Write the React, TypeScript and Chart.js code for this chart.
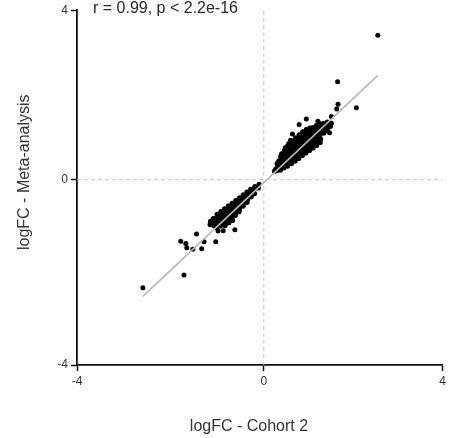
import React, { useEffect, useRef } from "react";
import { Chart, registerables, LinearScale } from "chart.js";

Chart.register(...registerables);

// ---------- data ----------
const xTickValues = [-4, 0, 4];
const yTickValues = [-4, 0, 4];
const xTitle = "logFC - Cohort 2";
const yTitle = "logFC - Meta-analysis";
const annotationText = "r = 0.99, p < 2.2e-16";

// fitted line end points (x, y)
const fitLine: [number, number][] = [
  [-2.59, -2.52],
  [2.55, 2.46],
];

// dense cluster of up-regulated genes
const positiveCluster: [number, number][] = [
  [0.24, 0.2], [0.27, 0.25],
  [0.3, 0.22], [0.31, 0.3], [0.3, 0.38], [0.33, 0.43],
  [0.37, 0.23], [0.38, 0.31], [0.39, 0.39], [0.37, 0.47], [0.38, 0.55], [0.4, 0.61],
  [0.45, 0.28], [0.47, 0.36], [0.46, 0.44], [0.45, 0.52], [0.47, 0.6], [0.46, 0.68], [0.48, 0.75],
  [0.53, 0.32], [0.55, 0.4], [0.54, 0.48], [0.53, 0.56], [0.55, 0.64], [0.54, 0.72], [0.53, 0.79], [0.56, 0.85],
  [0.62, 0.38], [0.61, 0.46], [0.63, 0.54], [0.62, 0.62], [0.61, 0.7], [0.63, 0.78], [0.62, 0.86], [0.6, 0.93],
  [0.7, 0.44], [0.71, 0.52], [0.69, 0.6], [0.7, 0.68], [0.71, 0.76], [0.69, 0.84], [0.7, 0.92], [0.71, 0.99],
  [0.78, 0.5], [0.79, 0.58], [0.77, 0.66], [0.78, 0.74], [0.79, 0.82], [0.77, 0.9], [0.78, 0.98], [0.79, 1.06],
  [0.86, 0.57], [0.87, 0.65], [0.85, 0.73], [0.86, 0.81], [0.87, 0.89], [0.85, 0.97], [0.86, 1.05], [0.87, 1.13],
  [0.94, 0.63], [0.95, 0.71], [0.93, 0.79], [0.94, 0.87], [0.95, 0.95], [0.93, 1.03], [0.94, 1.11], [0.95, 1.18],
  [1.02, 0.69], [1.03, 0.77], [1.01, 0.85], [1.02, 0.93], [1.03, 1.01], [1.01, 1.09], [1.02, 1.16], [1.03, 1.22],
  [1.1, 0.75], [1.11, 0.83], [1.09, 0.91], [1.1, 0.99], [1.11, 1.07], [1.09, 1.15], [1.1, 1.23],
  [1.18, 0.81], [1.19, 0.89], [1.17, 0.97], [1.18, 1.05], [1.19, 1.13], [1.17, 1.21], [1.18, 1.28],
  [1.26, 0.88], [1.27, 0.96], [1.25, 1.04], [1.26, 1.12], [1.27, 1.2], [1.25, 1.27], [1.26, 1.32],
  [1.34, 1.1], [1.35, 1.18], [1.33, 1.26], [1.34, 1.33],
  [1.42, 1.16], [1.43, 1.24], [1.41, 1.31], [1.42, 1.36],
  [1.49, 1.26], [1.51, 1.33],
];

// dense cluster of down-regulated genes
const negativeCluster: [number, number][] = [
  [-0.1, -0.1], [-0.12, -0.18],
  [-0.19, -0.15], [-0.21, -0.22], [-0.2, -0.3],
  [-0.28, -0.21], [-0.29, -0.29], [-0.27, -0.37],
  [-0.36, -0.27], [-0.37, -0.35], [-0.35, -0.43], [-0.36, -0.49],
  [-0.44, -0.33], [-0.45, -0.41], [-0.43, -0.49], [-0.44, -0.57],
  [-0.52, -0.39], [-0.53, -0.47], [-0.51, -0.55], [-0.52, -0.63], [-0.53, -0.69],
  [-0.6, -0.45], [-0.61, -0.53], [-0.59, -0.61], [-0.6, -0.69], [-0.61, -0.77],
  [-0.68, -0.51], [-0.69, -0.59], [-0.67, -0.67], [-0.68, -0.75], [-0.69, -0.83], [-0.67, -0.88],
  [-0.76, -0.57], [-0.77, -0.65], [-0.75, -0.73], [-0.76, -0.81], [-0.77, -0.89], [-0.75, -0.93],
  [-0.84, -0.63], [-0.85, -0.71], [-0.83, -0.79], [-0.84, -0.87], [-0.85, -0.95], [-0.83, -0.99],
  [-0.92, -0.69], [-0.93, -0.77], [-0.91, -0.85], [-0.92, -0.93], [-0.93, -1.0],
  [-1.0, -0.75], [-1.01, -0.83], [-0.99, -0.91], [-1.0, -0.99], [-1.01, -1.03],
  [-1.08, -0.84], [-1.09, -0.92], [-1.07, -0.99],
  [-1.14, -0.9], [-1.15, -0.97],
];

// scattered genes away from the dense clusters
const outliers: [number, number][] = [
  [2.55, 3.41], [1.65, 2.31], [1.66, 1.78], [1.63, 1.67], [2.07, 1.7],
  [1.51, 1.49], [0.95, 1.43], [0.79, 1.3], [1.21, 1.38], [0.64, 1.08], [1.47, 1.11],
  [-1.44, -1.17], [-1.78, -1.33], [-1.67, -1.38], [-1.65, -1.47], [-1.52, -1.5],
  [-1.33, -1.49], [-1.28, -1.34], [-1.03, -1.34], [-0.98, -1.11], [-0.87, -1.1],
  [-0.62, -1.08], [-1.71, -2.06], [-2.59, -2.33],
];

// ---------- a linear scale whose zero sits at a chosen fraction of the axis ----------
class SplitLinearScale extends LinearScale {
  static id = "splitLinear";
  getPixelForValue(value: any) {
    if (value === null || value === undefined || isNaN(value)) return NaN;
    const z = (this.options as any).zeroAt ?? 0.5;
    const min = this.min;
    const max = this.max;
    let dec: number;
    if (value <= 0) dec = (z * (value - min)) / (0 - min);
    else dec = z + ((1 - z) * value) / max;
    return this.getPixelForDecimal(dec);
  }
  getValueForPixel(pixel: number) {
    const dec = this.getDecimalForPixel(pixel);
    const z = (this.options as any).zeroAt ?? 0.5;
    if (dec <= z) return this.min + (dec / z) * (0 - this.min);
    return ((dec - z) / (1 - z)) * this.max;
  }
}
Chart.register(SplitLinearScale as any);

const FONT = '"Liberation Sans", Arial, Helvetica, sans-serif';
const toPts = (arr: [number, number][]) => arr.map(([x, y]) => ({ x, y }));

const textPlugin = {
  id: "texts",
  afterDraw(chart: any) {
    const ctx = chart.ctx;
    const a = chart.chartArea;
    ctx.save();
    ctx.fillStyle = "#262626";
    ctx.font = `16px ${FONT}`;
    ctx.textAlign = "left";
    ctx.textBaseline = "alphabetic";
    ctx.fillText(annotationText, a.left + 16, a.top + 3);
    ctx.fillStyle = "#333";
    ctx.textAlign = "center";
    ctx.fillText(xTitle, a.left + 172, chart.height - 7);
    ctx.translate(29, a.top + 162);
    ctx.rotate(-Math.PI / 2);
    ctx.fillText(yTitle, 0, 0);
    ctx.restore();
  },
};

export default function App() {
  const ref = useRef<HTMLCanvasElement | null>(null);
  useEffect(() => {
    if (!ref.current) return;
    const tickFont = { family: FONT, size: 12 };
    const axisCommon = (ticksArr: number[], zeroAt: number, fitKey: string, fitVal: number) => ({
      type: "splitLinear",
      zeroAt,
      min: -4,
      max: 4,
      afterBuildTicks: (s: any) => {
        s.ticks = ticksArr.map((v) => ({ value: v }));
      },
      afterFit: (s: any) => {
        s[fitKey] = fitVal;
      },
      grid: {
        display: true,
        drawOnChartArea: false,
        drawTicks: true,
        tickLength: 6,
        tickColor: "#111",
        tickWidth: 1.5,
      },
      border: { display: true, color: "#111", width: 1.8 },
      ticks: {
        font: tickFont,
        color: "#333",
        padding: 3,
        autoSkip: false,
        maxRotation: 0,
        callback: (v: any) => String(v),
      },
    });
    const chart = new Chart(ref.current, {
      type: "scatter",
      data: {
        datasets: [
          {
            label: "fit",
            data: toPts(fitLine),
            showLine: true,
            borderColor: "#b8b8b8",
            borderWidth: 1.6,
            pointRadius: 0,
            order: 0,
          },
          {
            label: "outliers",
            data: toPts(outliers),
            backgroundColor: "#000",
            borderWidth: 0,
            pointRadius: 2.5,
            order: 1,
          },
          {
            label: "up",
            data: toPts(positiveCluster),
            backgroundColor: "#000",
            borderWidth: 0,
            pointRadius: 2.6,
            order: 1,
          },
          {
            label: "down",
            data: toPts(negativeCluster),
            backgroundColor: "#000",
            borderWidth: 0,
            pointRadius: 2.6,
            order: 1,
          },
          {
            label: "x0",
            data: [
              { x: 0, y: -4 },
              { x: 0, y: 4 },
            ],
            showLine: true,
            borderColor: "#c4c4c4",
            borderWidth: 1,
            borderDash: [4, 3],
            pointRadius: 0,
            order: 2,
          },
          {
            label: "y0",
            data: [
              { x: -4, y: 0 },
              { x: 4, y: 0 },
            ],
            showLine: true,
            borderColor: "#c4c4c4",
            borderWidth: 1,
            borderDash: [4, 3],
            pointRadius: 0,
            order: 2,
          },
        ],
      },
      options: {
        responsive: false,
        animation: false,
        events: [],
        layout: { padding: { left: 0, right: 6, top: 7, bottom: 0 } },
        plugins: { legend: { display: false }, tooltip: { enabled: false }, title: { display: false } },
        scales: {
          x: axisCommon(xTickValues, 187 / 366, "height", 73) as any,
          y: axisCommon(yTickValues, 187 / 358, "width", 77) as any,
        },
      },
      plugins: [textPlugin],
    });
    return () => chart.destroy();
  }, []);
  return (
    <canvas
      ref={ref}
      width={449}
      height={438}
      style={{ position: "absolute", left: 0, top: 0, width: 449, height: 438 }}
    />
  );
}
